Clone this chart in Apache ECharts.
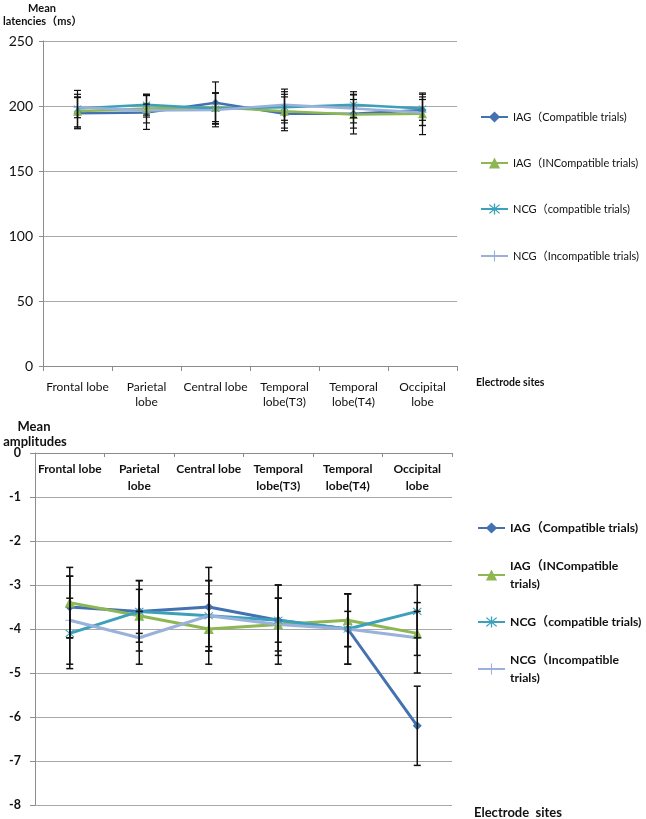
<!DOCTYPE html>
<html>
<head>
<meta charset="utf-8">
<script src="https://cdn.jsdelivr.net/npm/echarts@6/dist/echarts.min.js"></script>
<style>
html,body{margin:0;padding:0;background:#fff;}
#c{width:646px;height:819px;}
</style>
</head>
<body>
<div id="c"></div>
<script>
// ---------- DATA ----------
const categoriesTop = ['Frontal lobe', 'Parietal\nlobe', 'Central lobe', 'Temporal\nlobe(T3)', 'Temporal\nlobe(T4)', 'Occipital\nlobe'];
const categoriesBottom = ['Frontal lobe', 'Parietal\nlobe', 'Central lobe', 'Temporal\nlobe(T3)', 'Temporal\nlobe(T4)', 'Occipital\nlobe'];
const seriesNames = ['IAG（Compatible trials)', 'IAG（INCompatible trials)', 'NCG（compatible trials)', 'NCG（Incompatible trials)'];
const legendBottomLabels = ['IAG（Compatible trials)', 'IAG（INCompatible\ntrials)', 'NCG（compatible trials)', 'NCG（Incompatible\ntrials)'];

// Mean latencies (ms)
const latIAGc = [194.5, 195, 202.5, 194, 194, 197];
const latIAGi = [196, 198, 199, 196, 193.5, 194];
const latNCGc = [198, 201, 198, 199, 201, 198];
const latNCGi = [199, 196.5, 197, 201, 198, 195];
// error (± half width)
const latErrIAGc = [12, 13, 16, 13, 11, 12];
const latErrIAGi = [13, 11, 11, 13, 15, 16];
const latErrNCGc = [14, 8, 12, 12, 10, 9];
const latErrNCGi = [8, 5, 13, 12, 11, 10];

// Mean amplitudes
const ampIAGc = [-3.5, -3.6, -3.5, -3.8, -4.0, -6.2];
const ampIAGi = [-3.4, -3.7, -4.0, -3.9, -3.8, -4.1];
const ampNCGc = [-4.1, -3.6, -3.7, -3.8, -4.0, -3.6];
const ampNCGi = [-3.8, -4.2, -3.7, -3.9, -4.0, -4.2];
const ampErrIAGc = [0.7, 0.7, 0.9, 0.8, 0.8, 0.9];
const ampErrIAGi = [0.8, 0.8, 0.8, 0.9, 0.6, 0.5];
const ampErrNCGc = [0.8, 0.5, 0.8, 0.5, 0.4, 0.6];
const ampErrNCGi = [1.0, 0.6, 0.8, 0.6, 0.8, 0.8];

const yTopTicks = {min: 0, max: 250, interval: 50};
const yBottomTicks = {min: -8, max: 0, interval: 1};

// ---------- STYLE ----------
const colors = ['#4472B0', '#8DB753', '#3CA0BA', '#9AB1DB'];
const asterisk = 'path://M9,0H11V20H9Z M1.6,3L3,1.6L18.4,17L17,18.4Z M17,1.6L18.4,3L3,18.4L1.6,17Z';
const plusSym = 'path://M9,0H11V20H9Z M0,9H20V11H0Z';
const symbols = ['diamond', 'triangle', asterisk, plusSym];
const FONT = 'Lato, "Noto Sans", "Noto Sans CJK SC", sans-serif';

const chart = echarts.init(document.getElementById('c'), null, {renderer: 'canvas'});

function errData(vals, errs) { return vals.map((v, i) => [i, v, errs[i]]); }
function errSeries(gi, vals, errs, lw, cap) {
  return {
    type: 'custom', xAxisIndex: gi, yAxisIndex: gi, z: 5, silent: true,
    data: errData(vals, errs),
    encode: {x: 0, y: 1},
    renderItem: function (params, api) {
      const i = api.value(0), v = api.value(1), e = api.value(2);
      const t = api.coord([i, v + e]);
      const b = api.coord([i, v - e]);
      const st = {stroke: '#111', lineWidth: lw};
      return {type: 'group', children: [
        {type: 'line', shape: {x1: t[0], y1: t[1], x2: b[0], y2: b[1]}, style: st},
        {type: 'line', shape: {x1: t[0] - cap, y1: t[1], x2: t[0] + cap, y2: t[1]}, style: st},
        {type: 'line', shape: {x1: b[0] - cap, y1: b[1], x2: b[0] + cap, y2: b[1]}, style: st}
      ]};
    }
  };
}
function lineSeries(gi, k, vals, lw, sz) {
  return {
    name: seriesNames[k], type: 'line', xAxisIndex: gi, yAxisIndex: gi, z: 3,
    data: vals, symbol: symbols[k], symbolSize: (k === 1 ? sz + 1 : sz),
    showAllSymbol: true,
    lineStyle: {color: colors[k], width: lw},
    itemStyle: {color: colors[k]},
    emphasis: {disabled: true}
  };
}

const series = [];
[latIAGc, latIAGi, latNCGc, latNCGi].forEach((d, k) => series.push(lineSeries(0, k, d, 2.5, 8)));
[ampIAGc, ampIAGi, ampNCGc, ampNCGi].forEach((d, k) => series.push(lineSeries(1, k, d, 3, 9)));
[[latIAGc, latErrIAGc], [latIAGi, latErrIAGi], [latNCGc, latErrNCGc], [latNCGi, latErrNCGi]]
  .forEach(p => series.push(errSeries(0, p[0], p[1], 1.2, 3.5)));
[[ampIAGc, ampErrIAGc], [ampIAGi, ampErrIAGi], [ampNCGc, ampErrNCGc], [ampNCGi, ampErrNCGi]]
  .forEach(p => series.push(errSeries(1, p[0], p[1], 1.5, 3.5)));

// legends
const legends = [];
const topCenters = [117, 163, 209, 256];
const botCenters = [528, 575, 622, 669];
seriesNames.forEach((n, k) => {
  legends.push({
    data: [n], orient: 'vertical', left: 480, top: topCenters[k] - 8, padding: 0,
    itemWidth: 27, itemHeight: 14, itemGap: 4, selectedMode: false,
    textStyle: {fontFamily: FONT, fontSize: 11, color: '#111', lineHeight: 16}
  });
  const two = legendBottomLabels[k].indexOf('\n') >= 0;
  legends.push({
    data: [n], orient: 'vertical', left: 477, top: botCenters[k] - (two ? 27 : 9), padding: 0,
    itemWidth: 27, itemHeight: 14, itemGap: 4, selectedMode: false,
    formatter: () => legendBottomLabels[k],
    textStyle: {fontFamily: FONT, fontSize: 12.2, fontWeight: 'bold', color: '#111', lineHeight: 18,
      padding: two ? [18, 0, 0, 0] : 0}
  });
});

const axisGray = '#8C8C8C';
const gridGray = '#A8A8A8';

chart.setOption({
  animation: false,
  backgroundColor: '#fff',
  grid: [
    {left: 43, top: 41, width: 414, height: 325},
    {left: 35, top: 453, width: 417, height: 352}
  ],
  xAxis: [
    {gridIndex: 0, type: 'category', data: categoriesTop, boundaryGap: true,
     axisLine: {show: true, lineStyle: {color: axisGray}},
     axisTick: {show: true, length: 5, lineStyle: {color: axisGray}},
     axisLabel: {interval: 0, fontFamily: FONT, fontSize: 12, lineHeight: 15, margin: 14, color: '#111'}},
    {gridIndex: 1, type: 'category', data: categoriesBottom, boundaryGap: true, position: 'top',
     axisLine: {show: true, onZero: false, lineStyle: {color: axisGray}},
     axisTick: {show: true, inside: true, length: 4, lineStyle: {color: axisGray}},
     axisLabel: {interval: 0, inside: true, fontFamily: FONT, fontSize: 12, fontWeight: 'bold', lineHeight: 17, margin: 8, color: '#111'}}
  ],
  yAxis: [
    {gridIndex: 0, type: 'value', min: yTopTicks.min, max: yTopTicks.max, interval: yTopTicks.interval,
     axisLine: {show: true, lineStyle: {color: axisGray}},
     axisTick: {show: true, length: 4, lineStyle: {color: axisGray}},
     splitLine: {show: true, lineStyle: {color: gridGray}},
     axisLabel: {fontFamily: FONT, fontSize: 14, margin: 10, color: '#111'}},
    {gridIndex: 1, type: 'value', min: yBottomTicks.min, max: yBottomTicks.max, interval: yBottomTicks.interval,
     axisLine: {show: true, lineStyle: {color: axisGray}},
     axisTick: {show: true, length: 5, lineStyle: {color: axisGray}},
     splitLine: {show: true, lineStyle: {color: gridGray}},
     axisLabel: {fontFamily: FONT, fontSize: 12.5, fontWeight: 'bold', margin: 14, color: '#111'}}
  ],
  legend: legends,
  graphic: [
    {type: 'text', x: 42, y: 8, style: {text: 'Mean', font: 'bold 11px ' + FONT, fill: '#111', align: 'center', verticalAlign: 'middle'}},
    {type: 'text', x: 3, y: 21, style: {text: 'latencies（ms）', font: 'bold 11px ' + FONT, fill: '#111', align: 'left', verticalAlign: 'middle'}},
    {type: 'text', x: 476, y: 383, style: {text: 'Electrode sites', font: 'bold 10.5px ' + FONT, fill: '#111', align: 'left', verticalAlign: 'middle'}},
    {type: 'text', x: 34, y: 427, style: {text: 'Mean', font: 'bold 13px ' + FONT, fill: '#111', align: 'center', verticalAlign: 'middle'}},
    {type: 'text', x: 35, y: 442, style: {text: 'amplitudes', font: 'bold 13px ' + FONT, fill: '#111', align: 'center', verticalAlign: 'middle'}},
    {type: 'text', x: 474, y: 813, style: {text: 'Electrode  sites', font: 'bold 13px ' + FONT, fill: '#111', align: 'left', verticalAlign: 'middle'}}
  ],
  series: series
});
</script>
</body>
</html>
